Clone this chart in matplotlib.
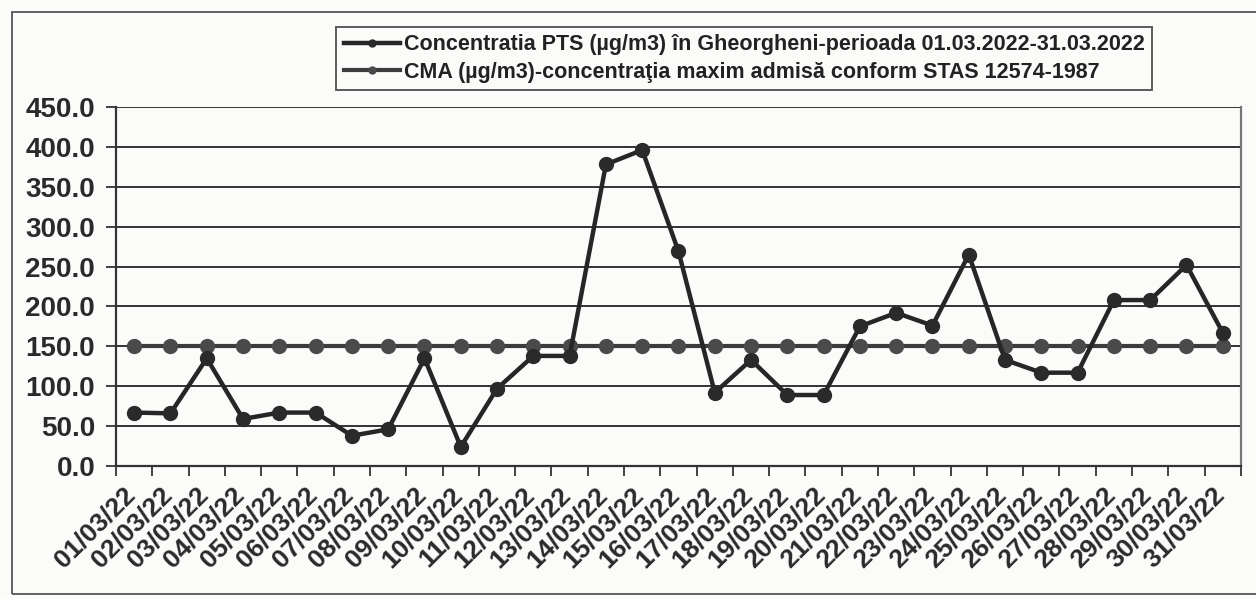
from matplotlib import pyplot as plt
from matplotlib.patches import Rectangle
from matplotlib.transforms import ScaledTranslation
import numpy as np

# date zilnice martie 2022
zile = ['01/03/22', '02/03/22', '03/03/22', '04/03/22', '05/03/22', '06/03/22',
        '07/03/22', '08/03/22', '09/03/22', '10/03/22', '11/03/22', '12/03/22',
        '13/03/22', '14/03/22', '15/03/22', '16/03/22', '17/03/22', '18/03/22',
        '19/03/22', '20/03/22', '21/03/22', '22/03/22', '23/03/22', '24/03/22',
        '25/03/22', '26/03/22', '27/03/22', '28/03/22', '29/03/22', '30/03/22',
        '31/03/22']
pts = [67, 66, 135, 59, 67, 67, 38, 46, 135, 24, 97, 138, 138, 378, 396, 269,
       92, 133, 89, 89, 175, 192, 176, 265, 133, 117, 117, 208, 208, 252, 167]
cma = [150, 150, 150, 150, 150, 150, 150, 150, 150, 150, 150, 150, 150, 150, 150, 150,
       150, 150, 150, 150, 150, 150, 150, 150, 150, 150, 150, 150, 150, 150, 150]
y_ticks = [0, 50, 100, 150, 200, 250, 300, 350, 400, 450]

lbl_pts = 'Concentratia PTS (µg/m3) în Gheorgheni-perioada 01.03.2022-31.03.2022'
lbl_cma = 'CMA (µg/m3)-concentraţia maxim admisă conform STAS 12574-1987'

plt.rcParams['font.family'] = ['Liberation Sans', 'DejaVu Sans']
plt.rcParams['font.weight'] = 'bold'

fig = plt.figure(figsize=(12.56, 5.99), dpi=100, facecolor='#fbfbfa')
ax = fig.add_axes([0.0924, 0.222, 0.8956, 0.5994])
ax.set_facecolor('#fbfbfa')

# chenar exterior
fig.patches.append(Rectangle((0.0095, 0.008), 1.2, 0.972, transform=fig.transFigure,
                             fill=False, edgecolor='#555555', linewidth=1.3))

x = np.arange(len(zile))
ax.plot(x, pts, color='#262626', linewidth=3.2, marker='o', markersize=10,
        markerfacecolor='#2a2a2a', markeredgecolor='#2a2a2a', label=lbl_pts, zorder=4)
ax.plot(x, cma, color='#3c3c3c', linewidth=3.0, marker='o', markersize=10,
        markerfacecolor='#4a4a4a', markeredgecolor='#4a4a4a', label=lbl_cma, zorder=3)

ax.set_xlim(-0.5, len(zile) - 0.5)
ax.set_ylim(0, 450)
ax.set_yticks(y_ticks)
ax.set_yticklabels(['%.1f' % v for v in y_ticks], fontsize=20, fontweight='bold', color='#2a2a2a')
ax.yaxis.grid(True, color='#333333', linewidth=1.4)
ax.set_axisbelow(True)

ax.set_xticks(np.arange(len(zile) + 1) - 0.5)
ax.set_xticklabels([])
ax.set_xticks(x, minor=True)
ax.set_xticklabels(zile, minor=True, rotation=45, ha='right', va='top',
                   rotation_mode='anchor', fontsize=19, fontweight='bold', color='#2a2a2a')
ax.tick_params(axis='x', which='minor', length=0, pad=12)
ax.tick_params(axis='x', which='major', length=7, width=1.3, color='#333333', direction='out')
ax.tick_params(axis='y', length=7, width=1.3, color='#333333', pad=8)

# etichetele pe x putin mai la stanga, ca in original
dx = ScaledTranslation(-0.11, 0, fig.dpi_scale_trans)
for lab in ax.get_xticklabels(minor=True):
    lab.set_transform(lab.get_transform() + dx)

for s in ['left', 'bottom', 'right']:
    ax.spines[s].set_color('#333333')
    ax.spines[s].set_linewidth(1.6)
ax.spines['right'].set_color('#777777')
ax.spines['top'].set_visible(False)

leg = fig.legend(loc='upper left', bbox_to_anchor=(0.259, 0.973), ncol=1,
                 frameon=True, fancybox=False, handlelength=2.6,
                 markerscale=0.5, borderpad=0.35, labelspacing=0.3, handletextpad=0.2,
                 prop={'weight': 'bold', 'size': 15.5})
leg.get_frame().set_edgecolor('#333333')
leg.get_frame().set_linewidth(1.4)
leg.get_frame().set_facecolor('#fbfbfa')
for t in leg.get_texts():
    t.set_color('#222222')

plt.savefig('out.png', dpi=100, facecolor=fig.get_facecolor())
